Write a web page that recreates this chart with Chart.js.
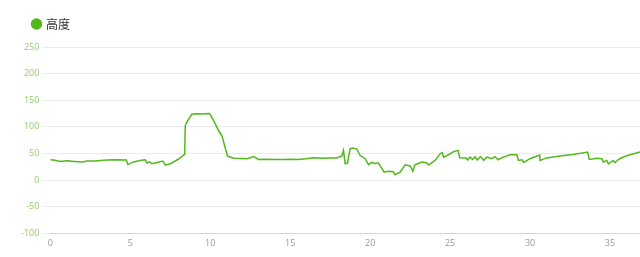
<!DOCTYPE html>
<html>
<head>
<meta charset="utf-8">
<script src="https://cdn.jsdelivr.net/npm/chart.js@4"></script>
<style>
    html, body { margin: 0; padding: 0; background: #fff; }
    #wrap { width: 640px; height: 257px; }
</style>
</head>
<body>
<div id="wrap"><canvas id="altChart" width="640" height="257"></canvas></div>
<script>
const seriesName = "高度";

const distance = [
    0, 0.3, 0.625, 1.04, 1.5, 1.98, 2.3, 2.81, 3.3, 3.94,
    4.75, 4.85, 5.2, 5.6, 5.94, 6.04, 6.2, 6.35, 6.67, 7.04,
    7.19, 7.5, 8.0, 8.4, 8.44, 8.6, 8.85, 9.17, 9.5, 9.9,
    10.0, 10.31, 10.52, 10.73, 11.08, 11.46, 12.0, 12.29, 12.71, 13.02,
    13.5, 14.0, 14.58, 15.0, 15.5, 16.0, 16.46, 17.0, 17.5, 17.9,
    18.23, 18.33, 18.44, 18.58, 18.75, 18.9, 19.17, 19.375, 19.69, 19.9,
    20.1, 20.3, 20.5, 20.73, 20.875, 21.15, 21.46, 21.56, 21.875, 22.19,
    22.5, 22.67, 22.8, 23.23, 23.54, 23.65, 24.06, 24.375, 24.5, 24.6,
    24.8, 25.0, 25.2, 25.5, 25.6, 26.0, 26.1, 26.25, 26.4, 26.56,
    26.7, 26.9, 27.1, 27.29, 27.6, 27.8, 28.0, 28.33, 28.75, 29.17,
    29.27, 29.5, 29.6, 30.0, 30.6, 30.625, 31.04, 31.875, 32.7, 33.6,
    33.7, 34.17, 34.5, 34.58, 34.79, 34.9, 35.2, 35.3, 35.6, 36.0,
    36.875
];

const altitude = [
    38, 37, 35, 36, 35, 34, 35.5, 35.5, 37, 38,
    37.5, 29, 34, 36.5, 38, 32, 34, 30.5, 33, 35.5,
    28, 30.5, 39, 48, 103, 112, 123.5, 124.5, 124, 125,
    123, 106, 93, 83, 45, 41, 40.5, 40, 44, 38.7,
    39, 38.5, 38.7, 39, 38.5, 40, 42, 41, 41.5, 41.5,
    45, 55.7, 30.5, 31.5, 59, 60, 58, 46, 40, 29,
    33, 31, 32.4, 22, 14.7, 16.3, 15.7, 9.8, 14.7, 28.6,
    26.5, 16.3, 28.6, 33.6, 32, 28, 36.8, 49.4, 51.6, 43,
    46, 49, 53, 55.7, 42, 41.5, 37.7, 43, 38.7, 44,
    37.7, 44, 37, 43, 40, 44, 38, 43, 47.5, 48,
    36.8, 38, 33, 40, 47, 36.8, 41.5, 45, 48, 52.5,
    38.7, 41, 40, 33.6, 36.8, 30.5, 36.8, 32.5, 40, 45,
    52.5
];

const yTicks = [-100, -50, 0, 50, 100, 150, 200, 250];

const lineColor = "#52b81c";

function buildPoints() {
    return distance.map((d, i) => ({ x: d, y: altitude[i] }));
}

// push the plot a little further below the legend
const legendGap = {
    id: "legendGap",
    beforeLayout(chart) {
        const legend = chart.legend;
        if (!legend || legend._gapPatched) return;
        const origFit = legend.fit;
        legend.fit = function () {
            origFit.call(this);
            this.height += 7;
        };
        legend._gapPatched = true;
    }
};

const ctx = document.getElementById("altChart").getContext("2d");

new Chart(ctx, {
    type: "line",
    data: {
        datasets: [{
            label: seriesName,
            data: buildPoints(),
            borderColor: lineColor,
            backgroundColor: lineColor,
            borderWidth: 1.5,
            pointRadius: 0,
            tension: 0,
            fill: false
        }]
    },
    options: {
        responsive: false,
        animation: false,
        layout: {
            padding: { top: 3, left: 18, right: 0, bottom: 3 }
        },
        plugins: {
            legend: {
                display: true,
                align: "start",
                labels: {
                    usePointStyle: true,
                    pointStyle: "circle",
                    boxWidth: 7,
                    boxHeight: 7,
                    color: "#333",
                    font: { family: "Noto Sans CJK SC", size: 12 },
                    padding: 15
                }
            },
            tooltip: { enabled: false }
        },
        scales: {
            x: {
                type: "linear",
                min: 0,
                max: 36.875,
                grid: { display: false, drawTicks: false },
                border: { color: "#ccd6eb" },
                ticks: {
                    stepSize: 5,
                    includeBounds: false,
                    padding: 5,
                    color: "#999",
                    font: { family: "Open Sans", size: 9 },
                    maxRotation: 0
                }
            },
            y: {
                min: -100,
                max: 250,
                afterBuildTicks: axis => {
                    axis.ticks = yTicks.map(v => ({ value: v }));
                },
                grid: { color: "#ececec" },
                border: { display: false },
                ticks: {
                    color: "#8fd16a",
                    font: { family: "Open Sans", size: 9 }
                }
            }
        }
    },
    plugins: [legendGap]
});
</script>
</body>
</html>
